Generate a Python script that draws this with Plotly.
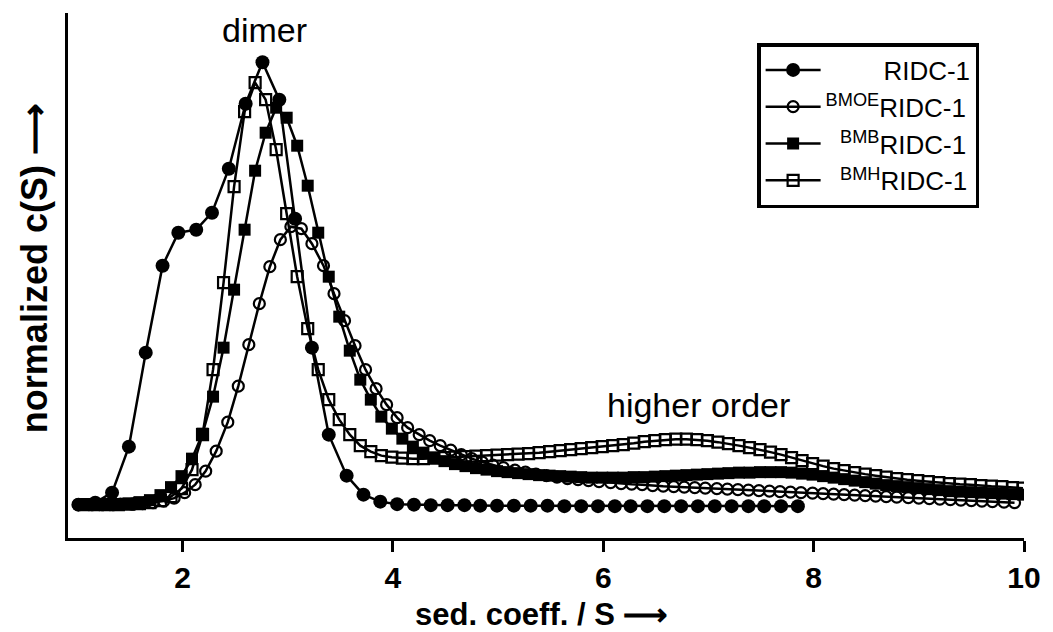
import plotly.graph_objects as go

# ---------------- data ----------------
# c(S) readings in arbitrary units; normalised below by the RIDC-1 dimer peak
ridc_x = [1.01, 1.17, 1.33, 1.49, 1.65, 1.81, 1.96, 2.13, 2.28, 2.44,
          2.60, 2.76, 2.92, 3.07, 3.23, 3.39, 3.56, 3.72, 3.88, 4.04,
          4.20, 4.36, 4.52, 4.68, 4.83, 4.99, 5.15, 5.31, 5.47, 5.63,
          5.79, 5.95, 6.11, 6.26, 6.42, 6.58, 6.74, 6.90, 7.06, 7.22,
          7.38, 7.53, 7.69, 7.85]
ridc_c = [1, 3, 13, 59, 153, 240, 273, 276, 293, 337,
          402, 443.5, 406, 287, 158, 71, 30, 11, 4, 1.5,
          1, 0.5, 0.5, 0.5, 0, 0, 0, 0, 0, -0.5,
          -0.5, -0.5, -0.5, -0.5, -0.5, -0.5, -0.5, -0.5, -0.5, -0.5,
          -0.5, -0.5, -0.5, -0.5]

bmoe_x = [1.01, 1.11, 1.21, 1.31, 1.41, 1.52, 1.62, 1.72, 1.82, 1.92,
          2.02, 2.12, 2.22, 2.32, 2.43, 2.53, 2.63, 2.73, 2.83, 2.93,
          3.03, 3.13, 3.23, 3.34, 3.44, 3.54, 3.64, 3.74, 3.84, 3.94,
          4.04, 4.14, 4.25, 4.35, 4.45, 4.55, 4.65, 4.75, 4.85, 4.95,
          5.05, 5.16, 5.26, 5.36, 5.46, 5.56, 5.66, 5.76, 5.86, 5.96,
          6.07, 6.17, 6.27, 6.37, 6.47, 6.57, 6.67, 6.77, 6.87, 6.97,
          7.08, 7.18, 7.28, 7.38, 7.48, 7.58, 7.68, 7.78, 7.88, 7.99,
          8.09, 8.19, 8.29, 8.39, 8.49, 8.59, 8.69, 8.79, 8.90, 9.00,
          9.10, 9.20, 9.30, 9.40, 9.50, 9.60, 9.70, 9.81, 9.91]
bmoe_c = [1, 1, 1, 1, 1.5, 1.5, 2, 3, 4.5, 7.5,
          13, 21, 34.5, 54.5, 83.5, 119.5, 161, 202, 239, 266,
          279, 277, 262, 240, 212, 185, 160, 136, 117, 101,
          88, 78, 71, 65, 60, 55.5, 51, 47, 43.5, 40.5,
          38, 35.5, 33.5, 31.5, 30, 28.5, 27, 26, 25, 24,
          23, 22, 21.5, 21, 20, 19.5, 19, 18.5, 18, 17.5,
          17, 16.5, 16, 15.5, 15, 14.5, 14, 13.5, 13, 12.5,
          12, 11.5, 11, 10.5, 10, 9.5, 9, 8.5, 8, 7.5,
          7, 6.5, 6, 5.5, 5, 4.5, 4, 3.5, 3]

sq_x = [1.09, 1.19, 1.29, 1.39, 1.49, 1.59, 1.69, 1.79, 1.89, 1.99,
        2.09, 2.19, 2.29, 2.39, 2.49, 2.59, 2.69, 2.79, 2.89, 2.99,
        3.09, 3.19, 3.29, 3.39, 3.49, 3.59, 3.69, 3.79, 3.89, 3.99,
        4.09, 4.19, 4.29, 4.39, 4.49, 4.59, 4.69, 4.79, 4.89, 4.99,
        5.09, 5.19, 5.29, 5.39, 5.49, 5.59, 5.69, 5.79, 5.89, 5.99,
        6.09, 6.19, 6.29, 6.39, 6.49, 6.59, 6.69, 6.79, 6.89, 6.99,
        7.09, 7.19, 7.29, 7.39, 7.49, 7.59, 7.69, 7.79, 7.89, 7.99,
        8.09, 8.19, 8.29, 8.39, 8.49, 8.59, 8.69, 8.79, 8.89, 8.99,
        9.09, 9.19, 9.29, 9.39, 9.49, 9.59, 9.69, 9.79, 9.89, 9.99]
bmb_c = [1, 1, 1, 1.5, 2, 3.5, 5.5, 10.5, 18.5, 29.5,
         47, 72, 109, 158, 216, 276, 335, 373, 398, 388,
         360, 320, 273, 229, 189, 155, 126, 106, 89, 77,
         67, 59, 53, 48, 44.5, 41.5, 39.5, 37.5, 36, 34.5,
         33.5, 32.5, 31.5, 30.5, 30, 29.5, 29, 28.5, 28, 28,
         28, 28, 28.5, 28.5, 29, 29.5, 30, 30.5, 31, 31.5,
         32, 32.5, 33, 33, 33.5, 33.5, 33.5, 33, 32, 31,
         29.5, 28, 26.5, 25, 23.5, 22, 20.5, 19.5, 18.5, 17.5,
         16.5, 15.5, 14.5, 14, 13.5, 13, 12.5, 12, 11.5, 11]
bmh_c = [1, 1, 1, 1, 1.5, 2, 3, 5, 9, 17,
         36, 71, 136, 223, 319, 394, 423, 406, 356, 292,
         229, 177, 136, 106, 86, 71, 60, 54, 50, 48.5,
         47.5, 47, 47, 47.5, 48, 48.5, 49, 49.5, 50, 50.5,
         51, 51.5, 52, 53, 54, 55, 56, 57, 58, 59,
         60, 61, 62.5, 64, 65, 66, 66.5, 66.5, 66, 65,
         63.5, 62, 60, 58, 56, 53.5, 51, 48, 45, 42,
         39.5, 37, 35, 33, 31.5, 30, 28.5, 27, 26, 25,
         24, 23, 22, 21.5, 21, 20, 19.5, 19, 18, 17.5]

names = ["RIDC-1", "<sup>BMOE</sup>RIDC-1", "<sup>BMB</sup>RIDC-1", "<sup>BMH</sup>RIDC-1"]
x_ticks = [2, 4, 6, 8, 10]

peak = max(ridc_c)
norm = lambda vals: [v / peak for v in vals]

FONT = "Liberation Sans, Arial, sans-serif"
NB = "\u00a0"

fig = go.Figure()
line = dict(color="black", width=2.5)

# drawing order: BMB, BMOE, BMH, RIDC-1 ; legend order via legendrank
fig.add_trace(go.Scatter(x=sq_x, y=norm(bmb_c), name=NB * 2 + names[2], mode="lines+markers",
                         line=line, legendrank=3,
                         marker=dict(symbol="square", size=12, color="black",
                                     line=dict(width=0))))
fig.add_trace(go.Scatter(x=bmoe_x, y=norm(bmoe_c), name=names[1], mode="lines+markers",
                         line=line, legendrank=2,
                         marker=dict(symbol="circle-open", size=11, color="black",
                                     line=dict(width=2.2))))
fig.add_trace(go.Scatter(x=sq_x, y=norm(bmh_c), name=NB * 2 + names[3], mode="lines+markers",
                         line=line, legendrank=4,
                         marker=dict(symbol="square-open", size=11, color="black",
                                     line=dict(width=2.2))))
fig.add_trace(go.Scatter(x=ridc_x, y=norm(ridc_c), name=NB * 8 + names[0], mode="lines+markers",
                         line=line, legendrank=1,
                         marker=dict(symbol="circle", size=14, color="black",
                                     line=dict(width=0))))

# pixel geometry of the plotting area
pl, pr, pt, pb = 68, 1053 - 25, 13, 632 - 94
def px2paper(px, py):
    return (px - pl) / (pr - pl), 1 - (py - pt) / (pb - pt)

lx, ly = px2paper(760, 43)
dx, dy = px2paper(265, 30)
hx, hy = px2paper(701, 405)
sx, sy = px2paper(543, 614)
yx, yy = px2paper(34, 268)

fig.update_layout(
    width=1053, height=632,
    margin=dict(l=pl, r=1053 - pr, t=pt, b=632 - pb),
    paper_bgcolor="white", plot_bgcolor="white",
    font=dict(family=FONT, color="black"),
    showlegend=True,
    legend=dict(x=lx, y=ly, xanchor="left", yanchor="top",
                bgcolor="white", bordercolor="black", borderwidth=3.5,
                font=dict(family=FONT, size=26, color="black"),
                itemwidth=55, traceorder="normal", tracegroupgap=0),
    xaxis=dict(range=[0.911, 10.0], tickvals=x_ticks, ticktext=[str(t) for t in x_ticks],
               showgrid=False, zeroline=False, showline=True, linecolor="black",
               linewidth=3, ticks="outside", ticklen=11, tickwidth=3, tickcolor="black",
               tickfont=dict(family=FONT, size=30, color="black", weight="bold")),
    yaxis=dict(range=[-0.073, 1.111], showgrid=False, zeroline=False, showline=True,
               linecolor="black", linewidth=3, ticks="", showticklabels=False),
    annotations=[
        dict(text="dimer", x=dx, y=dy, xref="paper", yref="paper", showarrow=False,
             font=dict(family=FONT, size=34), xanchor="center", yanchor="middle"),
        dict(text="higher order", x=hx, y=hy, xref="paper", yref="paper", showarrow=False,
             font=dict(family=FONT, size=34), xanchor="center", yanchor="middle"),
        dict(text="<b>sed. coeff. / S ⟶</b>", x=sx, y=sy, xref="paper", yref="paper",
             showarrow=False, font=dict(family=FONT, size=31),
             xanchor="center", yanchor="middle"),
        dict(text="<b>normalized c(S) ⟶</b>", x=yx, y=yy, xref="paper", yref="paper",
             showarrow=False, textangle=-90, font=dict(family=FONT, size=36),
             xanchor="center", yanchor="middle"),
    ],
)

fig.write_html("out.html")
